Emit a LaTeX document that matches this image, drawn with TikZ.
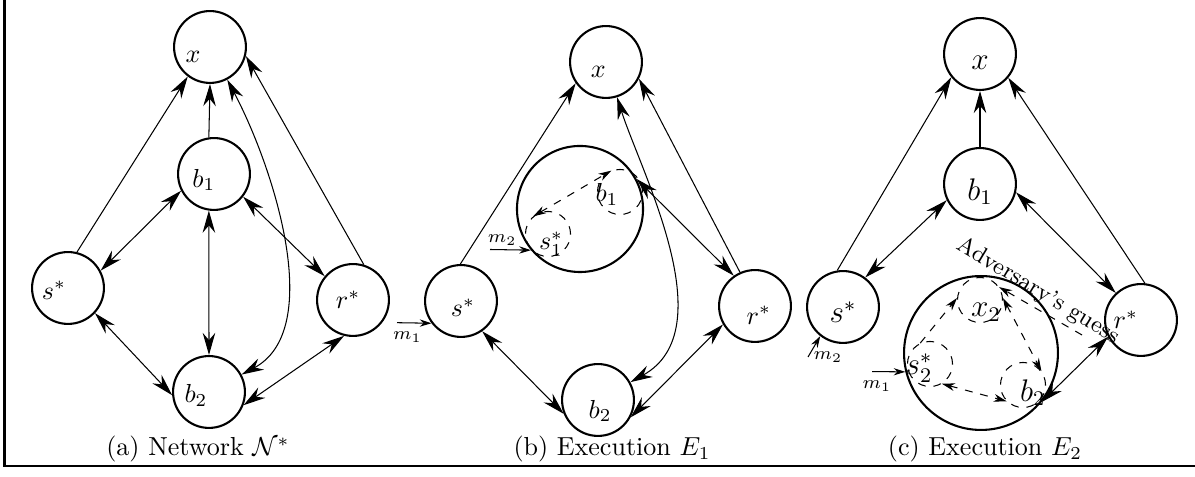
\documentclass[tikz,border=0pt]{standalone}
\usetikzlibrary{arrows.meta}
\tikzset{
  vertex/.style={circle, draw, line width=0.8pt, minimum size=27.6pt, inner sep=0pt},
  cloud/.style={circle, draw, line width=0.8pt, inner sep=0pt},
  ghost/.style={circle, draw, dashed, line width=0.4pt, minimum size=17.3pt, inner sep=0pt},
  lab/.style={font=\normalsize},
  labsmall/.style={font=\fontsize{9}{11}\selectfont},
  labbig/.style={font=\large},
  link/.style={line width=0.4pt},
  dlink/.style={link, dashed, >={Stealth[length=5pt,width=3pt,inset=1.6pt]}},
  msg/.style={link, >={Stealth[length=4.5pt,width=2.8pt,inset=1.5pt]}, font=\scriptsize},
  frame/.style={line width=0.8pt},
  caption/.style={font=\normalsize}
}

\begin{document}
\begin{tikzpicture}[x=0.384pt, y=-0.384pt, >={Stealth[length=8.5pt,width=4.8pt,inset=2.8pt]}]
\useasboundingbox (0,0) rectangle (1195,477);
\draw[frame] (4.5,0) -- (4.5,466) -- (1195,466);

% (a) network
\node[vertex, label={[lab, xshift=-6.5pt, yshift=-3.8pt]center:$x$}] (ax) at (210,47) {};
\node[vertex, label={[lab, xshift=-3.9pt, yshift=-2.3pt]center:$b_1$}] (ab1) at (214,174) {};
\node[vertex, label={[lab, xshift=-5.4pt, yshift=-0.8pt]center:$s^*$}] (as) at (68,288) {};
\node[vertex, label={[lab, xshift=-1.9pt]center:$r^*$}] (ar) at (353,300) {};
\node[vertex, label={[lab, xshift=-5pt, yshift=-1.5pt]center:$b_2$}] (ab2) at (209,392) {};
\node[caption] (capa) at (198,449) {(a) Network $\mathcal{N}^*$};

\draw[link, ->] (as.76) -- (ax.233);
\draw[link, ->] (ab1.98) -- (ax.270);
\draw[link, <->] (ax) .. controls (275,170) and (325,330) .. (ab2);
\draw[link, ->] (ar.73) -- (ax.-14);
\draw[link, <->] (as.28) -- (ab1.207);
\draw[link, <->] (ab1.-38) -- (ar.140);
\draw[link, <->] (ab1.262) -- (ab2.90);
\draw[link, <->] (as.-43) -- (ab2.185);
\draw[link, <->] (ar.256) -- (ab2.-21);

% (b) execution E1
\node[vertex, label={[lab, xshift=-3pt, yshift=-3.8pt]center:$x$}] (bx) at (606,62) {};
\node[cloud, minimum size=48.4pt] (bB) at (580,209) {};
\node[ghost, label={[lab, xshift=-5pt, yshift=-0.8pt]center:$b_1$}] (bb1) at (620,192) {};
\node[ghost, label={[lab, xshift=1.2pt, yshift=-3.8pt]center:$s^*_1$}] (bs1) at (548,234) {};
\node[vertex, label={[lab, xshift=0.8pt, yshift=-2.7pt]center:$s^*$}] (bs) at (461,301) {};
\node[vertex, label={[lab, xshift=1.5pt, yshift=-3.5pt]center:$r^*$}] (br) at (755,306) {};
\node[vertex, label={[lab, xshift=0.8pt, yshift=-4.2pt]center:$b_2$}] (bb2) at (598,400) {};
\node[caption] (capb) at (612,449) {(b) Execution $E_1$};
\coordinate (bm1) at (397,322.7);
\coordinate (bm2) at (490,249.5);

\draw[link, ->] (bs.91) -- (bx.215);
\draw[link, ->] (br.114) -- (bx.-27);
\draw[link, <->] (bx) .. controls (640,170) and (725,330) .. (bb2);
\draw[link, <->] (bB.28) -- (br.125);
\draw[link, <->] (bs.-55) -- (bb2.202);
\draw[link, <->] (br.210) -- (bb2.-28);
\draw[dlink, <->] (bs1.130) -- (bb1.112);
\draw[msg, ->] (bm2) -- node[pos=.3, above, inner sep=1.5pt] {$m_2$} (bB.220);
\draw[msg, ->] (bm1) -- node[pos=.3, below] {$m_1$} (bs.217);

% (c) execution E2
\node[vertex, label={[labbig, yshift=-3.5pt]center:$x$}] (cx) at (980,54) {};
\node[vertex, label={[labbig, yshift=-3pt]center:$b_1$}] (cb1) at (980,184) {};
\node[vertex, label={[labbig, yshift=-2pt]center:$s^*$}] (cs) at (843,307) {};
\node[vertex, label={[lab, xshift=-5.8pt]center:$r^*$}] (cr) at (1141,320) {};
\node[cloud, minimum size=59.1pt] (cB) at (981,353) {};
\node[ghost, label={[labbig, xshift=2.3pt, yshift=-4.6pt]center:$x_2$}] (cx2) at (980,300) {};
\node[ghost, label={[labbig, xshift=-4.2pt, yshift=-1.5pt]center:$s^*_2$}] (cs2) at (930,364) {};
\node[ghost, label={[labbig, xshift=3.8pt, yshift=-3pt]center:$b_2$}] (cb2) at (1023,385) {};
\node[labsmall, rotate=-31] (guesstext) at (1038,291) {Adversary's guess};
\node[caption] (capc) at (985,449) {(c) Execution $E_2$};
\coordinate (guess) at (1082,335);
\coordinate (cm1) at (872,371.6);
\coordinate (cm2) at (808,357);

\draw[link, ->] (cs.99) -- (cx.219);
\draw[link, ->] (cb1) -- (cx);
\draw[link, ->] (cr.84) -- (cx.-40);
\draw[link, <->] (cs.53) -- (cb1.206);
\draw[link, <->] (cb1.-13) -- (cr.133);
\draw[link, <->] (cB.-39) -- (cr.207);
\draw[dlink, ->] (cs2.115) -- (cx2.175);
\draw[dlink, <->] (cx2.5) -- (cb2.37);
\draw[dlink, <->] (cs2.-59) -- (cb2.-135);
\draw[dlink, ->] (guess) -- (cx2.34);
\draw[msg, ->] (cm1) -- node[pos=.15, below] {$m_1$} (cB.194);
\draw[msg, ->] (cm2) -- (cs.232) node[at start, right, inner sep=2pt] {$m_2$};

\end{tikzpicture}
\end{document}
